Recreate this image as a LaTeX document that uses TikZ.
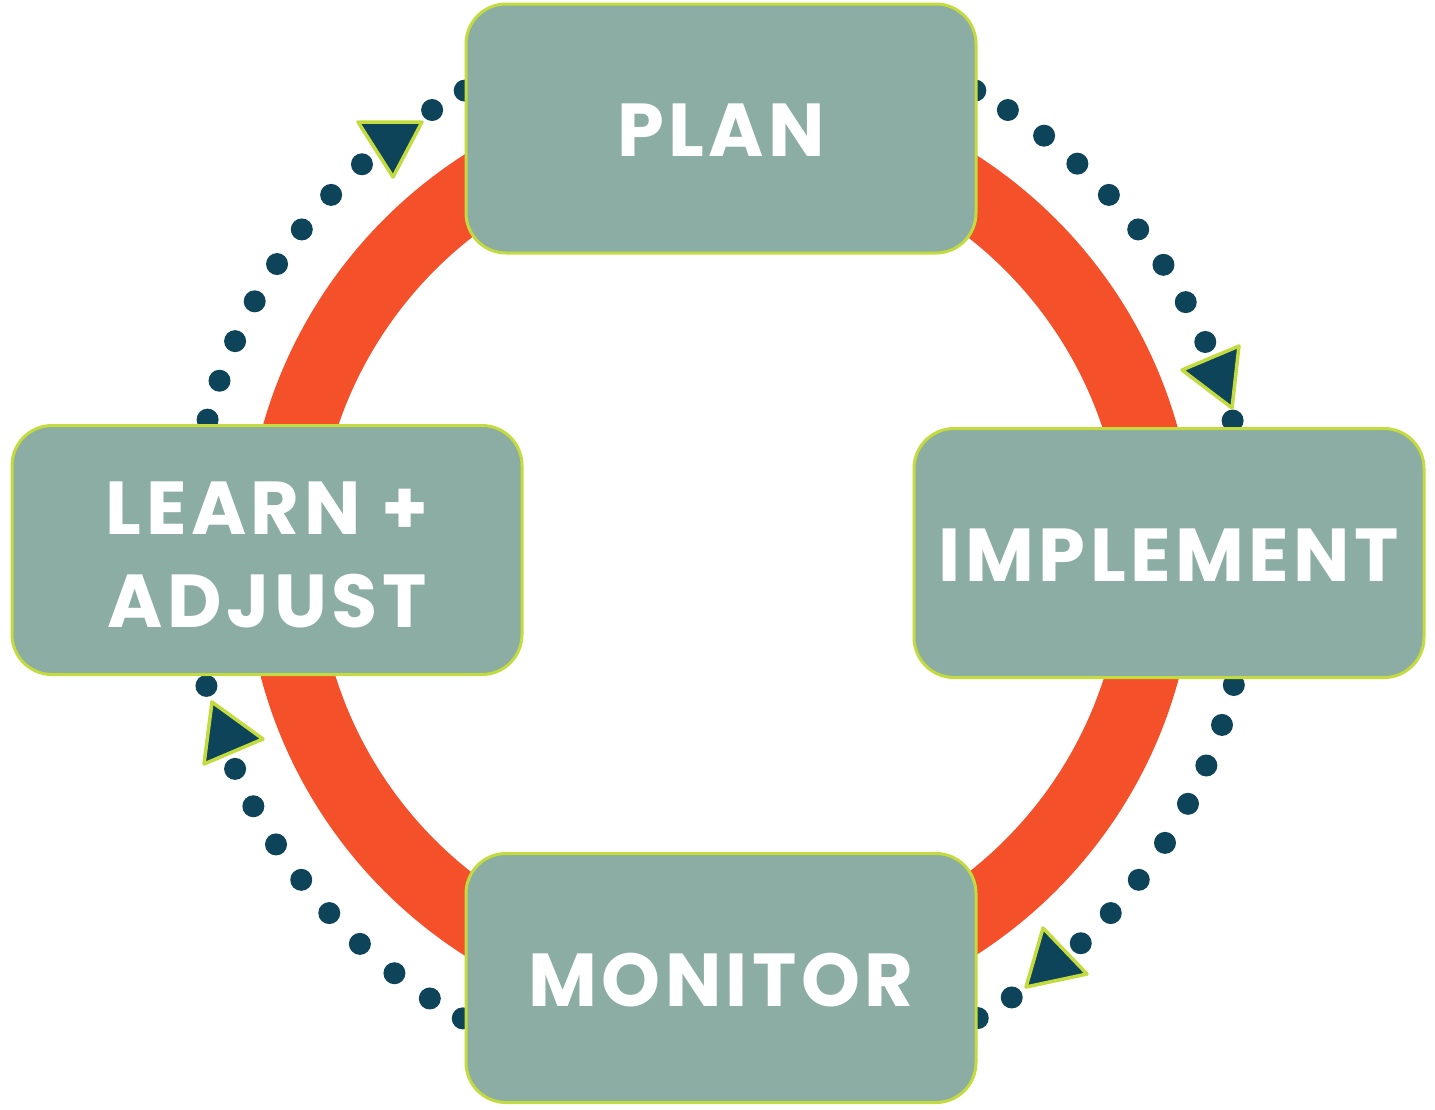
\documentclass[tikz,border=0pt]{standalone}
\usepackage{fontspec}
\setmainfont{Poppins}[LetterSpace=6]
\definecolor{boxfill}{HTML}{8BADA3}
\definecolor{boxline}{HTML}{C3DB3E}
\definecolor{ringcol}{HTML}{F4502A}
\definecolor{dotcol}{HTML}{0D4459}
\begin{document}
\begin{tikzpicture}[x=1pt,y=-1pt,
  stage/.style={draw=boxline, line width=3pt, fill=boxfill, rounded corners=40pt,
    minimum width=510pt, minimum height=249pt, inner sep=0pt},
  stagetext/.style={inner sep=0pt, font=\fontsize{75}{93}\selectfont\bfseries,
    text=white, align=center},
  tri/.style={fill=dotcol, draw=boxline, line width=3.5pt, line join=round},
  ringline/.style={draw=ringcol, line width=72pt},
  dotmark/.style={fill=dotcol}
]
\useasboundingbox (0,0) rectangle (1435,1109);
% ring
\draw[ringline] (720,555) circle[radius=439];
% dots
\begin{scope}[shift={(720,555)}]
\foreach \a in {118.8,122.9,132.5,137.2,142.1,146.7,151.4,156.2,160.8,165.2,
                61.2,57.1,52.3,47.6,42.8,37.9,33.2,28.5,23.7,14.7,
                -14.2,-18.7,-23.4,-28.0,-32.9,-37.8,-42.5,-47.1,-56.6,-60.9,
                194.3,203.8,208.3,213.1,217.8,222.5,227.2,232.1,236.8,240.96}
  \fill[dotmark] ({530*cos(\a)},{-530*sin(\a)}) circle[radius=11];
\end{scope}
% stages
\node[stage] (plan) at (721,128.5) {};
\node[stage] (impl) at (1169,553) {};
\node[stage] (learn) at (267,550) {};
\node[stage] (mon) at (721,978) {};
\node[stagetext] (plant) at ([shift={(0,2)}]plan.center) {PLAN};
\node[stagetext] (implt) at ([shift={(0,2)}]impl.center) {IMPLEMENT};
\node[stagetext] (learnt) at ([shift={(0,5)}]learn.center) {LEARN +\\ADJUST};
\node[stagetext] (mont) at ([shift={(0,2)}]mon.center) {MONITOR};
% arrowheads
\draw[tri] (358,122) -- (422,122) -- (393,177) -- cycle;
\draw[tri] (1182,370) -- (1239,346) -- (1232,408) -- cycle;
\draw[tri] (1043,928) -- (1087,974) -- (1026,987) -- cycle;
\draw[tri] (212,702) -- (263,739) -- (204,764) -- cycle;
\end{tikzpicture}
\end{document}
